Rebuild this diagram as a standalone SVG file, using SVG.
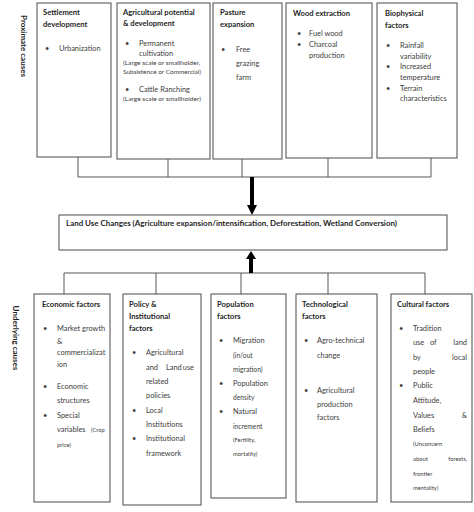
<svg xmlns="http://www.w3.org/2000/svg" width="474" height="512" viewBox="0 0 474 512">
<style>
.box{fill:#fff;stroke:#5a5a5a;stroke-width:1.1}
.c{stroke:#444;stroke-width:0.9;fill:none}
.t{font-family:Lato,"Noto Sans",sans-serif;font-weight:bold;font-size:7.6px;fill:#1e1e1e}
.b{font-family:Lato,"Noto Sans",sans-serif;font-size:7.4px;fill:#3c3c3c}
.m{font-size:6.7px}
.s{font-family:Lato,"Noto Sans",sans-serif;font-size:5.8px;fill:#3c3c3c}
.side{font-family:Lato,"Noto Sans",sans-serif;font-weight:bold;font-size:8px;fill:#1e1e1e}
</style>
<rect width="474" height="512" fill="#fff"/>
<text class="side" transform="translate(20.5,46) rotate(90)" text-anchor="middle">Proximate  causes</text>
<text class="side" transform="translate(13,338) rotate(90)" text-anchor="middle">Underlying causes</text>
<g id="connectors">
<path class="c" d="M78,157V177M168,159V177M242,159V177M328,158V177M431,158V177M78,177H431"/>
<path class="c" d="M64,273H425M64,273V294M156,273V294M241,273V294M328,273V294M425,273V294"/>
<rect x="250" y="177" width="4" height="29" fill="#000"/>
<polygon points="247,205 257,205 252,215" fill="#000"/>
<polygon points="246,259 256,259 251,251" fill="#000"/>
<rect x="249" y="258" width="4" height="15" fill="#000"/>
</g>
<g id="settlement">
<rect class="box" x="37" y="3" width="74" height="154"/>
<text class="t" x="43" y="15">Settlement</text>
<text class="t" x="43" y="27">development</text>
<text class="b" x="45" y="51">•</text><text class="b" x="59" y="51">Urbanization</text>
</g>
<g id="agri">
<rect class="box" x="117" y="3" width="93" height="156"/>
<text class="t" x="123" y="15">Agricultural potential</text>
<text class="t" x="123" y="26">&amp; development</text>
<text class="b" x="125" y="46">•</text><text class="b" x="139" y="46">Permanent</text>
<text class="b" x="139" y="56">cultivation</text>
<text class="s" x="123" y="64.5" textLength="77" lengthAdjust="spacingAndGlyphs">(Large scale or smallholder,</text>
<text class="s" x="123" y="73.5" textLength="78" lengthAdjust="spacingAndGlyphs">Subsistence or Commercial)</text>
<text class="b" x="125" y="92">•</text><text class="b" x="139" y="92">Cattle Ranching</text>
<text class="s" x="123" y="100.5" textLength="78" lengthAdjust="spacingAndGlyphs">(Large scale or smallholder)</text>
</g>
<g id="pasture">
<rect class="box" x="213" y="3" width="69" height="156"/>
<text class="t" x="220" y="15">Pasture</text>
<text class="t" x="220" y="27">expansion</text>
<text class="b" x="221" y="52">•</text><text class="b" x="236" y="52">Free</text>
<text class="b" x="236" y="66">grazing</text>
<text class="b" x="236" y="80">farm</text>
</g>
<g id="wood">
<rect class="box" x="286" y="3" width="86" height="155"/>
<text class="t" x="293" y="16">Wood extraction</text>
<text class="b" x="297" y="36">•</text><text class="b" x="309" y="36">Fuel wood</text>
<text class="b" x="297" y="47">•</text><text class="b" x="309" y="47">Charcoal</text>
<text class="b" x="309" y="58">production</text>
</g>
<g id="biophysical">
<rect class="box" x="377" y="3" width="80" height="155"/>
<text class="t" x="385" y="16">Biophysical</text>
<text class="t" x="385" y="28">factors</text>
<text class="b" x="386" y="48">•</text><text class="b" x="400" y="48">Rainfall</text>
<text class="b" x="400" y="59">variability</text>
<text class="b" x="386" y="69">•</text><text class="b" x="400" y="69">Increased</text>
<text class="b" x="400" y="80">temperature</text>
<text class="b" x="386" y="91">•</text><text class="b" x="400" y="91">Terrain</text>
<text class="b" x="400" y="101">characteristics</text>
</g>
<g id="landuse">
<rect class="box" x="59" y="215" width="388" height="35"/>
<text class="t" x="66" y="226" textLength="331" lengthAdjust="spacingAndGlyphs">Land Use Changes (Agriculture expansion/intensification,  Deforestation, Wetland Conversion)</text>
</g>
<g id="economic">
<rect class="box" x="34" y="294" width="76" height="208"/>
<text class="t" x="42" y="307">Economic factors</text>
<text class="b" x="43" y="331">•</text><text class="b" x="57" y="331">Market growth</text>
<text class="b" x="57" y="344">&amp;</text>
<text class="b" x="57" y="355">commercializat</text>
<text class="b" x="57" y="367">ion</text>
<text class="b" x="43" y="389">•</text><text class="b" x="57" y="389">Economic</text>
<text class="b" x="57" y="403">structures</text>
<text class="b" x="43" y="418">•</text><text class="b" x="57" y="418">Special</text>
<text class="b" x="57" y="432">variables</text><text class="s" x="91" y="432">(Crop</text>
<text class="s" x="57" y="447">price)</text>
</g>
<g id="policy">
<rect class="box" x="123" y="294" width="78" height="211"/>
<text class="t" x="129" y="307">Policy &amp;</text>
<text class="t" x="129" y="319">Institutional</text>
<text class="t" x="129" y="331">factors</text>
<text class="b" x="132" y="355">•</text><text class="b" x="146" y="355">Agricultural</text>
<text class="b" x="146" y="370">and</text><text class="b" x="166" y="370">Land</text><text class="b" x="194" y="370" text-anchor="end">use</text>
<text class="b" x="146" y="384">related</text>
<text class="b" x="146" y="398">policies</text>
<text class="b" x="132" y="413">•</text><text class="b" x="146" y="413">Local</text>
<text class="b" x="146" y="427">Institutions</text>
<text class="b" x="132" y="441">•</text><text class="b" x="146" y="441">Institutional</text>
<text class="b" x="146" y="456">framework</text>
</g>
<g id="population">
<rect class="box" x="211" y="294" width="75" height="204"/>
<text class="t" x="217" y="307">Population</text>
<text class="t" x="217" y="319">factors</text>
<text class="b" x="219" y="343">•</text><text class="b" x="233" y="343">Migration</text>
<text class="b m" x="233" y="358">(in/out</text>
<text class="b m" x="233" y="372">migration)</text>
<text class="b" x="219" y="386">•</text><text class="b" x="233" y="386">Population</text>
<text class="b m" x="233" y="400">density</text>
<text class="b" x="219" y="414">•</text><text class="b" x="233" y="414">Natural</text>
<text class="b m" x="233" y="429">increment</text>
<text class="s" x="233" y="442">(Fertility,</text>
<text class="s" x="233" y="456">mortality)</text>
</g>
<g id="technological">
<rect class="box" x="296" y="294" width="81" height="208"/>
<text class="t" x="302" y="307">Technological</text>
<text class="t" x="302" y="319">factors</text>
<text class="b" x="304" y="343">•</text><text class="b" x="317" y="343">Agro-technical</text>
<text class="b" x="317" y="358">change</text>
<text class="b" x="304" y="393">•</text><text class="b" x="317" y="393">Agricultural</text>
<text class="b" x="317" y="407">production</text>
<text class="b" x="317" y="420">factors</text>
</g>
<g id="cultural">
<rect class="box" x="391" y="294" width="81" height="208"/>
<text class="t" x="397" y="307">Cultural factors</text>
<text class="b" x="399" y="331">•</text><text class="b" x="413" y="331">Tradition</text>
<text class="b" x="413" y="345">use</text><text class="b" x="430" y="345">of</text><text class="b" x="467" y="345" text-anchor="end">land</text>
<text class="b" x="413" y="360">by</text><text class="b" x="467" y="360" text-anchor="end">local</text>
<text class="b" x="413" y="374">people</text>
<text class="b" x="399" y="388">•</text><text class="b" x="413" y="388">Public</text>
<text class="b" x="413" y="403">Attitude,</text>
<text class="b" x="413" y="418">Values</text><text class="b" x="467" y="418" text-anchor="end">&amp;</text>
<text class="b" x="413" y="432">Beliefs</text>
<text class="s" x="413" y="446">(Unconcern</text>
<text class="s" x="413" y="461">about</text><text class="s" x="467" y="461" text-anchor="end">forests,</text>
<text class="s" x="413" y="476">frontier</text>
<text class="s" x="413" y="490">mentality)</text>
</g>
</svg>
